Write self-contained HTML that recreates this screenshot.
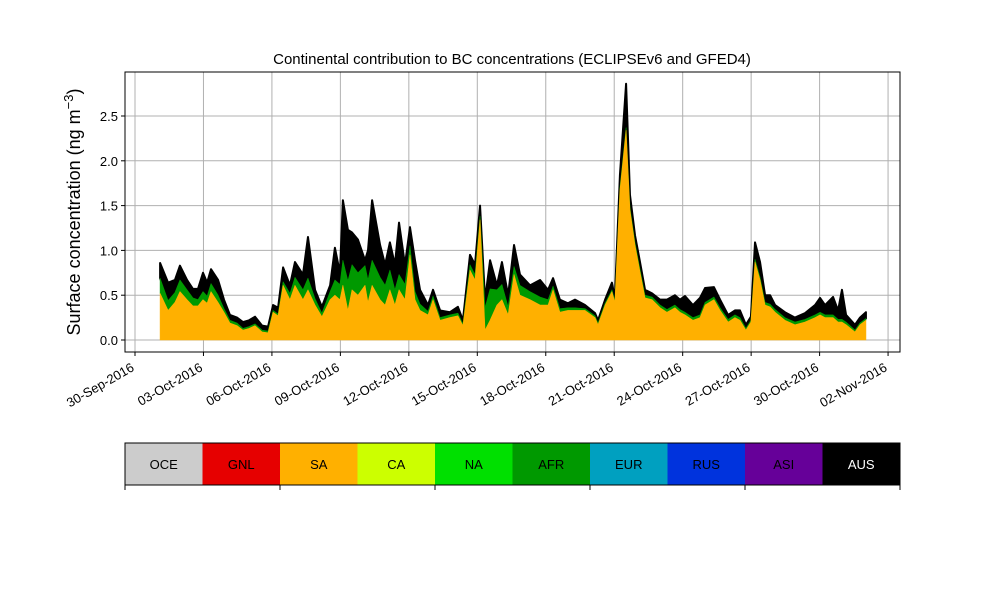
<!DOCTYPE html>
<html><head><meta charset="utf-8"><style>
body{margin:0;background:#fff;width:1000px;height:600px;overflow:hidden;font-family:"Liberation Sans",sans-serif}
</style></head><body>
<svg id="chart" width="1000" height="600" xmlns="http://www.w3.org/2000/svg" font-family="Liberation Sans, sans-serif">
<text x="512" y="64" font-size="15" text-anchor="middle">Continental contribution to BC concentrations (ECLIPSEv6 and GFED4)</text>
<text transform="translate(80,212) rotate(-90)" font-size="18" text-anchor="middle">Surface concentration (ng m<tspan dy="-7" font-size="13">−3</tspan><tspan dy="7">)</tspan></text>
<g id="grid"></g><g id="areas"></g><g id="axes"></g><g id="cbar"></g>
</svg>
<script>
const days=[1.10,1.45,1.75,1.97,2.28,2.54,2.76,2.98,3.16,3.33,3.64,3.90,4.16,4.47,4.73,5.00,5.26,5.57,5.83,6.05,6.27,6.49,6.79,7.01,7.36,7.58,7.89,8.19,8.55,8.76,8.98,9.11,9.33,9.51,9.77,10.08,10.21,10.39,10.74,10.96,11.17,11.39,11.57,11.83,12.05,12.27,12.49,12.84,13.06,13.37,13.80,14.15,14.37,14.68,14.90,15.12,15.34,15.56,15.86,16.08,16.35,16.61,16.87,17.31,17.75,18.10,18.32,18.62,18.97,19.28,19.72,20.16,20.29,20.60,20.90,21.03,21.25,21.52,21.69,21.91,22.13,22.35,22.66,23.01,23.31,23.66,23.88,24.10,24.45,24.76,24.98,25.37,25.64,25.99,26.29,26.51,26.77,26.99,27.17,27.39,27.61,27.83,28.05,28.48,28.92,29.36,29.80,30.02,30.24,30.59,30.81,30.98,31.16,31.55,31.77,32.03];
const saVals=[.52,.33,.42,.54,.45,.38,.38,.45,.41,.54,.42,.31,.19,.16,.11,.13,.16,.09,.08,.31,.27,.61,.45,.61,.45,.56,.39,.26,.45,.50,.45,.61,.33,.56,.50,.61,.42,.61,.45,.39,.56,.39,.56,.45,.95,.45,.33,.28,.45,.22,.25,.27,.16,.78,.67,1.34,.11,.22,.39,.45,.28,.73,.50,.45,.39,.39,.56,.31,.33,.33,.33,.25,.17,.39,.54,.42,1.67,2.34,1.45,1.06,.76,.47,.45,.36,.31,.36,.31,.28,.22,.25,.39,.45,.33,.20,.25,.22,.11,.20,.87,.67,.39,.37,.31,.22,.17,.20,.25,.28,.25,.25,.20,.20,.17,.09,.17,.22];
const afrVals=[.17,.11,.11,.13,.11,.09,.07,.09,.08,.09,.08,.04,.03,.03,.02,.02,.02,.02,.02,.02,.02,.04,.07,.09,.11,.13,.07,.04,.09,.17,.17,.28,.33,.28,.25,.22,.25,.28,.25,.22,.22,.17,.17,.17,.10,.09,.07,.04,.04,.03,.03,.03,.02,.06,.06,.04,.25,.35,.17,.17,.09,.09,.11,.09,.09,.06,.04,.04,.03,.03,.02,.02,.02,.02,.02,.02,.03,.03,.03,.03,.03,.03,.03,.03,.03,.03,.03,.03,.03,.03,.03,.03,.03,.03,.03,.03,.02,.02,.03,.03,.03,.03,.03,.03,.03,.03,.03,.03,.03,.03,.03,.03,.03,.02,.02,.02];
const ausVals=[.17,.20,.14,.16,.11,.10,.12,.21,.15,.16,.17,.10,.06,.06,.07,.07,.08,.05,.05,.06,.07,.16,.09,.17,.17,.46,.10,.07,.07,.36,.13,.67,.57,.36,.37,.06,.33,.67,.36,.23,.31,.28,.58,.22,.21,.35,.16,.07,.07,.08,.03,.07,.04,.11,.11,.12,.09,.32,.05,.25,.13,.24,.12,.07,.19,.11,.09,.10,.05,.09,.04,.03,.03,.04,.08,.03,.14,.49,.14,.08,.08,.06,.04,.06,.11,.11,.11,.18,.14,.19,.16,.11,.09,.05,.05,.08,.04,.04,.19,.17,.08,.10,.05,.06,.05,.07,.11,.16,.11,.20,.10,.33,.08,.06,.06,.07];
const yTicks=[0,0.5,1.0,1.5,2.0,2.5];
const xTickDays=[0,3,6,9,12,15,18,21,24,27,30,33];
const xTickLabels=["30-Sep-2016","03-Oct-2016","06-Oct-2016","09-Oct-2016","12-Oct-2016","15-Oct-2016","18-Oct-2016","21-Oct-2016","24-Oct-2016","27-Oct-2016","30-Oct-2016","02-Nov-2016"];
const regions=["OCE","GNL","SA","CA","NA","AFR","EUR","RUS","ASI","AUS"];
const regionColors=["#cccccc","#e60000","#ffb000","#ccff00","#00e000","#009900","#00a0c0","#0033dd","#660099","#000000"];

const NS="http://www.w3.org/2000/svg";
const L=125,R=900,T=72,B=352;
const xs=d=>135+22.82*d;
const ys=v=>340-89.6*v;
function mk(tag,attrs,parent){const e=document.createElementNS(NS,tag);for(const k in attrs)e.setAttribute(k,attrs[k]);parent.appendChild(e);return e;}
const grid=document.getElementById('grid'),axes=document.getElementById('axes'),areas=document.getElementById('areas'),cbar=document.getElementById('cbar');
yTicks.forEach(v=>{
 const g=mk('line',{x1:L,x2:R,y1:ys(v),y2:ys(v),stroke:'#b0b0b0','stroke-width':1},grid);
 
 
 mk('line',{x1:L-4,x2:L,y1:ys(v),y2:ys(v),stroke:'#000'},axes);
 const t=mk('text',{x:L-7,y:ys(v)+5,'font-size':13,'text-anchor':'end'},axes);t.textContent=v.toFixed(1);
 
 
});
xTickDays.forEach((d,i)=>{
 const x=xs(d);
 const g=mk('line',{x1:x,x2:x,y1:T,y2:B,stroke:'#b0b0b0','stroke-width':1},grid);
 
 
 mk('line',{x1:x,x2:x,y1:B,y2:B+4,stroke:'#000'},axes);
 const t=mk('text',{transform:`translate(${x},${B+18}) rotate(-30)`,'font-size':13,'text-anchor':'end'},axes);t.textContent=xTickLabels[i];
 
 
});
function area(lo,hi,color,name,sw){
 let pts=days.map((d,i)=>xs(d)+','+ys(hi[i])).join(' ');
 pts+=' '+days.map((d,i)=>xs(d)+','+ys(lo[i])).reverse().join(' ');
 const p=mk('polygon',{points:pts,fill:color,stroke:color,'stroke-width':sw,'stroke-linejoin':'round'},areas);
 
 
}
const zero=days.map(()=>0);
const c1=saVals.slice();
const c2=c1.map((v,i)=>v+afrVals[i]);
const c3=c2.map((v,i)=>v+ausVals[i]);
area(c2,c3,'#000000','area-aus',2);
area(c1,c2,'#009900','area-afr',0.6);
area(zero,c1,'#ffb000','area-sa',0.6);
const fr=mk('rect',{x:L,y:T,width:R-L,height:B-T,fill:'none',stroke:'#000','stroke-width':1},axes);


const w=(R-L)/regions.length;
regions.forEach((r,i)=>{
 const rc=mk('rect',{x:L+i*w,y:443,width:w,height:42,fill:regionColors[i]},cbar);
 
 
 const t=mk('text',{x:L+i*w+w/2,y:469,'font-size':13,'text-anchor':'middle',fill:r==='AUS'?'#fff':'#000'},cbar);t.textContent=r;
 
 
});
const cf=mk('rect',{x:L,y:443,width:R-L,height:42,fill:'none',stroke:'#000'},cbar);


[0,2,4,6,8,10].forEach(k=>mk('line',{x1:L+k*w,x2:L+k*w,y1:485,y2:490,stroke:'#000'},cbar));
</script>
</body></html>
